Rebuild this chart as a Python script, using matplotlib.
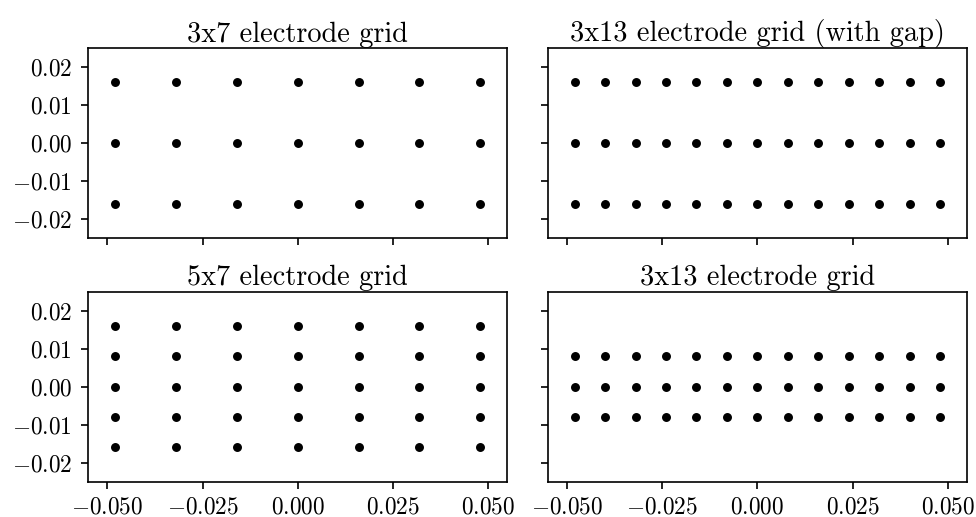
import matplotlib
matplotlib.use("Agg")
import matplotlib.pyplot as plt

plt.rcParams["font.family"] = "serif"
plt.rcParams["font.serif"] = ["cmr10"]
plt.rcParams["mathtext.fontset"] = "cm"
plt.rcParams["axes.formatter.use_mathtext"] = True
plt.rcParams["font.size"] = 11.2
plt.rcParams["axes.titlesize"] = 13.6
plt.rcParams["ytick.major.pad"] = 4.3

# electrode centre positions (m)
x_7 = [-0.048, -0.032, -0.016, 0.0, 0.016, 0.032, 0.048]
x_13 = [-0.048, -0.040, -0.032, -0.024, -0.016, -0.008, 0.0,
        0.008, 0.016, 0.024, 0.032, 0.040, 0.048]
y_3_wide = [-0.016, 0.0, 0.016]
y_5 = [-0.016, -0.008, 0.0, 0.008, 0.016]
y_3_narrow = [-0.008, 0.0, 0.008]

grids = [
    ("3x7 electrode grid", x_7, y_3_wide),
    ("3x13 electrode grid (with gap)", x_13, y_3_wide),
    ("5x7 electrode grid", x_7, y_5),
    ("3x13 electrode grid", x_13, y_3_narrow),
]

fig, axes = plt.subplots(2, 2, figsize=(6.5067, 3.4467), dpi=150,
                         sharex=True, sharey=True)
fig.subplots_adjust(left=0.0905, right=0.9905, top=0.9066, bottom=0.0683,
                    wspace=0.098, hspace=0.281)

for ax, (title, xs, ys) in zip(axes.flat, grids):
    px = [x for y in ys for x in xs]
    py = [y for y in ys for x in xs]
    ax.plot(px, py, "o", color="black", markersize=4.3,
            markeredgewidth=0, linestyle="none")
    ax.set_title(title, pad=3)

axes[0, 0].set_xlim(-0.055, 0.055)
axes[0, 0].set_ylim(-0.025, 0.025)
axes[0, 0].set_xticks([-0.05, -0.025, 0.0, 0.025, 0.05])
axes[0, 0].set_yticks([-0.02, -0.01, 0.0, 0.01, 0.02])

fig.savefig("out.png", dpi=150)
